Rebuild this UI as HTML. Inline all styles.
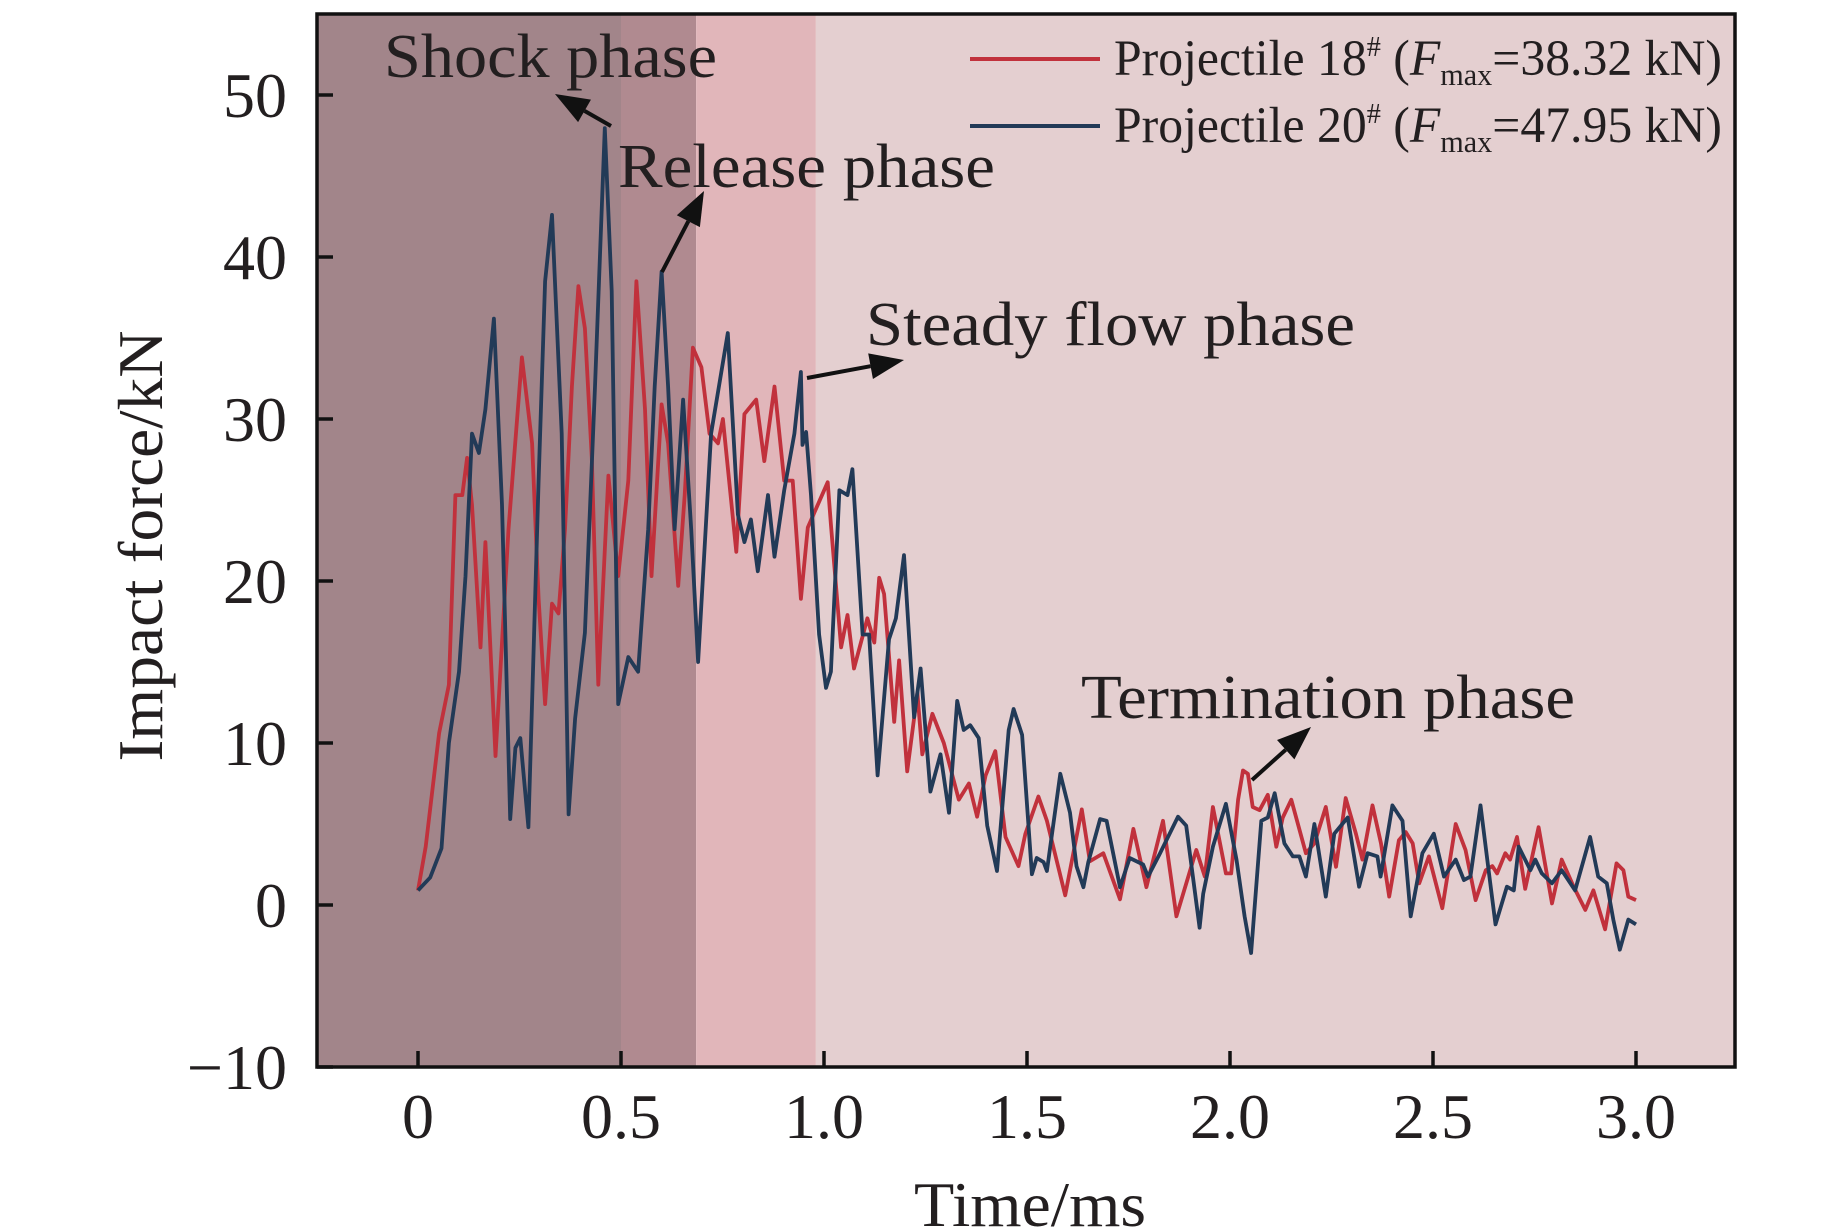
<!DOCTYPE html>
<html><head><meta charset="utf-8"><style>
html,body{margin:0;padding:0;background:#fff;}
svg{display:block;font-family:"Liberation Serif",serif;}
</style></head><body>
<svg id="chart" width="1843" height="1230" viewBox="0 0 1843 1230" xmlns="http://www.w3.org/2000/svg">
<g id="bands"></g>
<g id="series"></g>
<g id="annos"></g>
<rect x="317" y="14" width="1418" height="1053" fill="none" stroke="#111" stroke-width="3.5"/>
<g id="axes"></g>
<text transform="translate(162,546) rotate(-90)" text-anchor="middle" font-size="64" textLength="431" lengthAdjust="spacingAndGlyphs" fill="#231f20">Impact force/kN</text>
<text x="1030" y="1226" text-anchor="middle" font-size="64" textLength="232" lengthAdjust="spacingAndGlyphs" fill="#231f20">Time/ms</text>
<g>
<line x1="970" y1="59" x2="1100" y2="59" stroke="#c1313c" stroke-width="4"/>
<text x="1114" y="75" font-size="51" textLength="608" lengthAdjust="spacingAndGlyphs" fill="#231f20">Projectile 18<tspan font-size="29" dy="-19">#</tspan><tspan dy="19"> (</tspan><tspan font-style="italic">F</tspan><tspan font-size="31" dy="10">max</tspan><tspan dy="-10">=38.32 kN)</tspan></text>
<line x1="970" y1="126" x2="1100" y2="126" stroke="#223a57" stroke-width="4"/>
<text x="1114" y="142" font-size="51" textLength="608" lengthAdjust="spacingAndGlyphs" fill="#231f20">Projectile 20<tspan font-size="29" dy="-19">#</tspan><tspan dy="19"> (</tspan><tspan font-style="italic">F</tspan><tspan font-size="31" dy="10">max</tspan><tspan dy="-10">=47.95 kN)</tspan></text>
</g>
</svg>
<script>
const xTicks = [0, 0.5, 1.0, 1.5, 2.0, 2.5, 3.0];
const xTickLabels = ["0", "0.5", "1.0", "1.5", "2.0", "2.5", "3.0"];
const yTicks = [-10, 0, 10, 20, 30, 40, 50];
const yTickLabels = ["\u221210", "0", "10", "20", "30", "40", "50"];
const phaseBounds = [-0.25, 0.5, 0.685, 0.98, 3.27];
const red18T = [0,.019,.052,.076,.092,.109,.121,.133,.154,.166,
.191,.223,.256,.281,.297,.313,.33,.346,.362,.379,
.395,.411,.428,.444,.469,.493,.518,.538,.559,.575,
.6,.616,.641,.657,.677,.698,.718,.739,.751,.784,
.804,.833,.853,.878,.902,.923,.943,.96,1.009,1.017,
1.042,1.058,1.074,1.107,1.124,1.136,1.148,1.173,1.185,1.205,
1.23,1.242,1.267,1.295,1.332,1.357,1.377,1.398,1.422,1.447,
1.479,1.496,1.528,1.549,1.594,1.635,1.655,1.688,1.729,1.762,
1.794,1.835,1.868,1.917,1.938,1.958,1.99,2.003,2.02,2.032,
2.044,2.056,2.073,2.093,2.114,2.13,2.151,2.187,2.208,2.236,
2.261,2.285,2.31,2.326,2.351,2.372,2.392,2.416,2.433,2.45,
2.466,2.49,2.523,2.556,2.58,2.605,2.63,2.646,2.658,2.678,
2.69,2.707,2.727,2.76,2.793,2.817,2.846,2.875,2.895,2.924,
2.952,2.969,2.981,3.0];
const red18V = [0.9,3.6,10.6,13.6,25.3,25.3,27.6,24.7,15.9,22.4,
9.2,23.2,33.8,28.5,18.9,12.4,18.6,18.0,23.2,32.0,
38.2,35.6,27.6,13.6,26.5,20.3,26.2,38.5,30.6,20.3,
30.9,28.5,19.7,25.3,34.4,33.2,29.1,28.5,30.0,21.8,
30.3,31.2,27.4,32.0,26.2,26.2,18.9,23.3,26.1,23.5,
15.9,17.9,14.6,17.7,16.2,20.2,19.2,11.3,15.1,8.25,
13.1,9.3,11.8,10.0,6.5,7.5,5.45,8.0,9.5,4.2,
2.4,4.4,6.7,5.2,0.6,5.9,2.7,3.2,0.35,4.7,
1.1,5.2,-0.7,3.4,1.75,6.05,1.95,1.95,6.5,8.3,
8.1,6.05,5.85,6.8,3.6,5.4,6.5,3.2,3.8,6.05,
2.36,6.6,4.4,2.8,6.15,3.8,0.52,4.0,4.5,3.8,
1.34,3.0,-0.2,5.0,3.4,0.3,2.15,2.4,1.95,3.2,
2.8,4.2,1.0,4.8,0.1,2.8,1.15,-0.3,0.9,-1.5,
2.57,2.15,0.52,0.3];
const blue20T = [0,.03,.058,.076,.101,.117,.133,.15,.166,.187,
.207,.227,.24,.252,.272,.297,.313,.33,.354,.371,
.387,.411,.436,.46,.477,.493,.518,.542,.567,.583,
.6,.616,.632,.653,.673,.69,.722,.763,.788,.804,
.82,.837,.862,.878,.902,.927,.943,.947,.956,.968,
.988,1.005,1.017,1.038,1.058,1.07,1.095,1.111,1.132,1.16,
1.177,1.197,1.222,1.238,1.262,1.287,1.308,1.328,1.344,1.36,
1.381,1.402,1.426,1.455,1.467,1.488,1.512,1.524,1.541,1.549,
1.582,1.606,1.622,1.639,1.651,1.68,1.696,1.729,1.753,1.786,
1.798,1.827,1.872,1.892,1.925,1.934,1.958,1.99,2.016,2.036,
2.052,2.077,2.093,2.11,2.134,2.155,2.171,2.187,2.208,2.236,
2.257,2.29,2.318,2.339,2.363,2.371,2.4,2.425,2.445,2.474,
2.502,2.527,2.556,2.576,2.592,2.617,2.637,2.654,2.682,2.699,
2.711,2.74,2.752,2.768,2.793,2.817,2.85,2.887,2.907,2.928,
2.944,2.96,2.981,3.0];
const blue20V = [0.9,1.7,3.5,10.0,14.4,20.3,29.1,27.9,30.6,36.2,
24.7,5.3,9.7,10.3,4.8,26.2,38.5,42.6,29.1,5.6,
11.5,16.8,32.0,47.95,37.9,12.4,15.3,14.4,23.2,32.0,
39.1,32.0,23.2,31.2,23.2,15.0,29.1,35.3,24.1,22.4,
23.8,20.6,25.3,21.5,25.6,29.1,32.9,28.4,29.2,25.3,
16.7,13.4,14.4,25.6,25.3,26.9,16.7,16.7,8.0,16.4,
17.7,21.6,11.6,14.6,7.0,9.3,5.7,12.6,10.8,11.1,
10.3,4.9,2.1,10.8,12.1,10.5,1.9,2.9,2.65,2.1,
8.1,5.7,2.4,1.1,2.65,5.3,5.2,1.1,2.9,2.5,
1.75,3.16,5.45,4.9,-1.4,0.7,3.6,6.25,2.8,-0.7,
-2.96,5.2,5.4,6.9,3.8,3.0,3.0,1.75,5.0,0.52,
4.4,5.4,1.13,3.2,3.0,1.75,6.15,5.2,-0.7,3.2,
4.4,1.75,2.8,1.54,1.75,6.15,2.15,-1.2,1.13,0.9,
3.6,2.15,2.8,1.95,1.34,2.15,0.9,4.2,1.75,1.34,
-0.9,-2.76,-0.9,-1.2];

const NS = "http://www.w3.org/2000/svg";
const PL = 317, PR = 1735, PT = 14, PB = 1067;
function xs(t){ return 418 + t * 406; }
function ys(v){ return 905 - v * 16.2; }
function mk(tag, attrs, parent){ const e = document.createElementNS(NS, tag); for (const k in attrs) e.setAttribute(k, attrs[k]); parent.appendChild(e); return e; }

const bandColors = ["#a2858a", "#b08a90", "#e1b6ba", "#e4cfd0"];
const bands = document.getElementById("bands");
for (let i = 0; i < bandColors.length; i++) {
  const x1 = Math.max(PL, xs(phaseBounds[i])), x2 = Math.min(PR, xs(phaseBounds[i+1]));
  const r = mk("rect", {x: x1, y: PT, width: x2 - x1, height: PB - PT, fill: bandColors[i]}, bands);
  
  
}

const axes = document.getElementById("axes");
xTicks.forEach((t, i) => {
  const x = xs(t);
  const l = mk("line", {x1: x, y1: PB, x2: x, y2: PB - 16, stroke: "#111", "stroke-width": 3.5}, axes);
  
  
  const tx = mk("text", {x: x, y: 1138, "text-anchor": "middle", "font-size": 64, fill: "#231f20"}, axes);
  tx.textContent = xTickLabels[i];
  
  
});
yTicks.forEach((v, i) => {
  const y = ys(v);
  const l = mk("line", {x1: PL, y1: y, x2: PL + 16, y2: y, stroke: "#111", "stroke-width": 3.5}, axes);
  
  
  const tx = mk("text", {x: 287, y: y + 22, "text-anchor": "end", "font-size": 64, fill: "#231f20"}, axes);
  tx.textContent = yTickLabels[i];
  
  
});

const series = document.getElementById("series");
function drawLine(T, V, color, name){
  const n = Math.min(T.length, V.length);
  let d = "";
  for (let i = 0; i < n; i++) d += (i ? "L" : "M") + xs(T[i]).toFixed(1) + "," + ys(V[i]).toFixed(1);
  const p = mk("path", {d: d, fill: "none", stroke: color, "stroke-width": 3.8, "stroke-linejoin": "round"}, series);
  
  
}
drawLine(red18T, red18V, "#c1313c", "series-projectile-18");
drawLine(blue20T, blue20V, "#223a57", "series-projectile-20");

const annos = document.getElementById("annos");
const labels = [
  ["Shock phase", 384, 77, 333, "shock-phase-label"],
  ["Release phase", 618, 187, 377, "release-phase-label"],
  ["Steady flow phase", 866, 345, 489, "steady-flow-phase-label"],
  ["Termination phase", 1081, 718, 494, "termination-phase-label"]
];
labels.forEach(a => {
  const t = mk("text", {x: a[1], y: a[2], "font-size": 62, textLength: a[3], lengthAdjust: "spacingAndGlyphs", fill: "#231f20"}, annos);
  t.textContent = a[0];
  
  
});
const arrows = [[611,126,555,94],[662,272,704,191],[807,378,904,360],[1252,780,1311,727]];
arrows.forEach(a => {
  const [x1,y1,x2,y2] = a;
  const dx = x2-x1, dy = y2-y1, L = Math.hypot(dx,dy), ux = dx/L, uy = dy/L;
  const hl = 34, hw = 13;
  const bx = x2 - ux*hl, by = y2 - uy*hl;
  const ln = mk("line", {x1: x1, y1: y1, x2: bx, y2: by, stroke: "#111", "stroke-width": 4}, annos);
  
  
  const hd = mk("polygon", {points: `${x2},${y2} ${bx - uy*hw},${by + ux*hw} ${bx + uy*hw},${by - ux*hw}`, fill: "#111"}, annos);
  
  
});
</script>
</body></html>
